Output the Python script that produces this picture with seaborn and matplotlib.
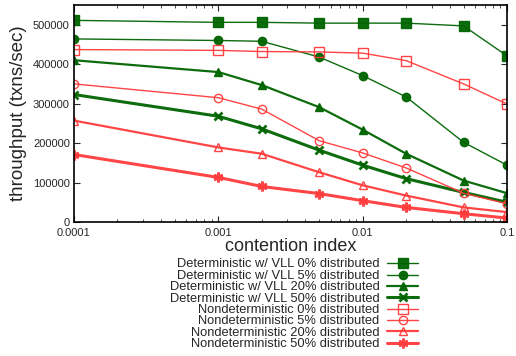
import numpy as np
import pandas as pd
import seaborn as sns
import matplotlib.pyplot as plt

contention = [0.0001, 0.001, 0.002, 0.005, 0.01, 0.02, 0.05, 0.1]

det_0 = [511000, 506000, 506000, 504000, 504000, 504000, 497000, 421000]
det_5 = [464000, 460000, 458000, 418000, 371000, 317000, 202000, 144000]
det_20 = [410000, 380000, 347000, 291000, 234000, 173000, 105000, 73000]
det_50 = [323000, 268000, 236000, 182000, 144000, 110000, 75000, 50000]
nd_0 = [437000, 435000, 432000, 431000, 428000, 409000, 350000, 299000]
nd_5 = [350000, 315000, 286000, 206000, 175000, 137000, 73000, 46000]
nd_20 = [257000, 189000, 173000, 126000, 93000, 67000, 37000, 25000]
nd_50 = [171000, 113000, 90000, 72000, 54000, 37000, 21000, 10000]

labels = [
    "Deterministic w/ VLL 0% distributed",
    "Deterministic w/ VLL 5% distributed",
    "Deterministic w/ VLL 20% distributed",
    "Deterministic w/ VLL 50% distributed",
    "Nondeterministic 0% distributed",
    "Nondeterministic 5% distributed",
    "Nondeterministic 20% distributed",
    "Nondeterministic 50% distributed",
]
series = [det_0, det_5, det_20, det_50, nd_0, nd_5, nd_20, nd_50]

green = "#006400"
red = "#ff3b3b"
styles = [
    # color, marker, filled, linewidth, markersize
    (green, "s", True, 1.0, 6.5),
    (green, "o", True, 1.0, 6),
    (green, "^", True, 1.6, 5.5),
    (green, "x", True, 2.2, 6),
    (red, "s", False, 1.0, 6.5),
    (red, "o", False, 1.0, 6),
    (red, "^", False, 1.6, 6),
    (red, (6, 2, 0), True, 2.2, 7),
]

df = pd.concat([pd.DataFrame({"contention": contention, "throughput": s, "series": l})
                for l, s in zip(labels, series)])

sns.set_style("ticks")
plt.rcParams["font.family"] = ["Liberation Sans", "DejaVu Sans"]

fig = plt.figure(figsize=(5.16, 3.56), dpi=100)
ax = fig.add_axes([0.1434, 0.3764, 0.8392, 0.6096])

for (color, marker, filled, lw, ms), label in zip(styles, labels):
    d = df[df["series"] == label]
    mew = 1.0 if marker in ("s", "o", "^") else 2.0
    sns.lineplot(data=d, x="contention", y="throughput", ax=ax, color=color,
                 linewidth=lw, marker=marker, markersize=ms,
                 markerfacecolor=color if filled else "none", markeredgecolor=color,
                 markeredgewidth=mew, label=label, alpha=0.95)

ax.set_xscale("log")
ax.set_xlim(0.0001, 0.1)
ax.set_ylim(0, 550000)
ax.set_xticks([0.0001, 0.001, 0.01, 0.1])
ax.set_xticklabels(["0.0001", "0.001", "0.01", "0.1"])
ax.set_yticks(range(0, 500001, 100000))
ax.tick_params(which="both", direction="in", top=True, right=True, labelsize=8)
ax.tick_params(axis="x", pad=4)
ax.tick_params(axis="y", pad=3)
ax.tick_params(which="major", length=4)
ax.tick_params(which="minor", length=2)
for sp in ax.spines.values():
    sp.set_linewidth(1.2)
    sp.set_color("black")
ax.set_xlabel("contention index", fontsize=13, labelpad=0)
ax.set_ylabel("throughput (txns/sec)", fontsize=13.5, labelpad=4)

ax.get_legend().remove()
handles, lbls = ax.get_legend_handles_labels()
fig.legend(handles, lbls, loc="upper right", bbox_to_anchor=(0.81, 0.274),
           frameon=False, markerfirst=False, fontsize=9.25, labelspacing=-0.05,
           handlelength=2.4, handletextpad=0.6, handleheight=0.5,
           borderpad=0, borderaxespad=0)

fig.savefig("out.png", dpi=100)
